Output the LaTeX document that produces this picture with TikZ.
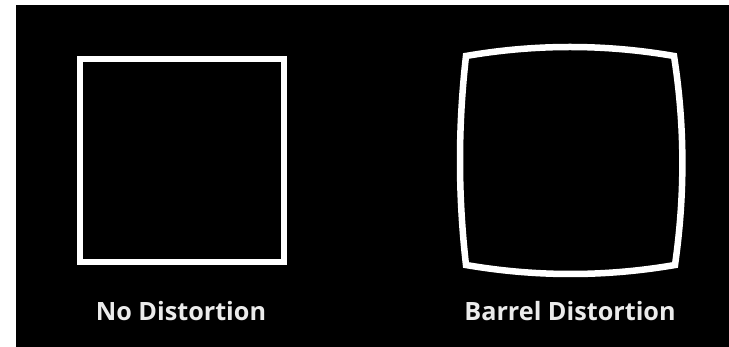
\documentclass[tikz,border=0pt]{standalone}
\usepackage{fontspec}
\setmainfont{Open Sans}
\begin{document}
\begin{tikzpicture}[x = 1pt, y = -1pt,
		frame/.style = {white, line width = 6.5pt, line join = miter},
		caption/.style = {anchor = base, text = white!92!black, font = \fontsize{25.2}{29}\selectfont\bfseries}]
		\useasboundingbox (0,0) rectangle (729,347);
		\fill [white] (0,0) rectangle (729,347);
		\fill [black] (16,5) rectangle (729,347);
		% square without distortion
		\draw [frame] (80,59) rectangle (284,262);
		% barrel distorted square
		\draw [frame] (466,56) .. controls (535,44) and (605,44) .. (674,56)
			.. controls (685,126) and (685,195) .. (675,265)
			.. controls (605,277) and (536,277) .. (466,265)
			.. controls (458,195) and (458,126) .. cycle;
		\node [caption] (nodist) at (181,321) {No Distortion};
		\node [caption] (barrel) at (570,321) {Barrel Distortion};
		%\draw (570,47) node {$|$};
	\end{tikzpicture}
\end{document}
